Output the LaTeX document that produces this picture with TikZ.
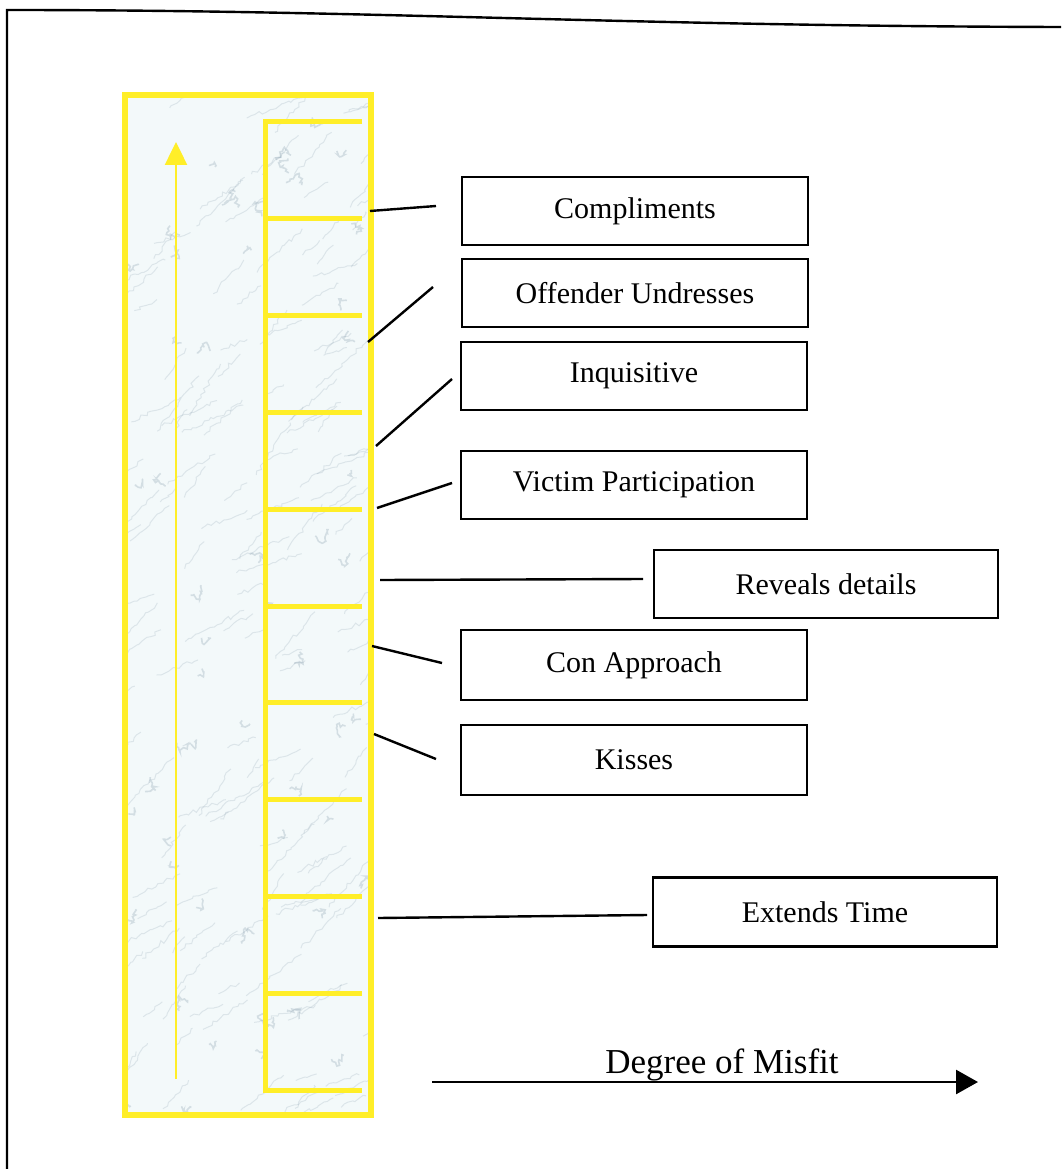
\documentclass[tikz,border=0pt]{standalone}
\usepackage{fontspec}
\setmainfont{Liberation Serif}
\usetikzlibrary{arrows.meta,decorations.pathmorphing}
\definecolor{markeryellow}{RGB}{255,238,40}
\definecolor{marblebase}{RGB}{243,249,250}
\definecolor{marblevein}{RGB}{100,128,148}
\tikzset{
  labelbox/.style={draw=black, line width=2.4pt, minimum width=346pt, minimum height=68pt,
    inner sep=0pt, fill=white, font=\fontsize{30}{36}\selectfont},
  leader/.style={draw=black, line width=2.4pt},
  rung/.style={draw=markeryellow, line width=5pt},
  vein/.style={draw=marblevein, line width=1pt, opacity=0.16, decorate,
    decoration={random steps, segment length=4pt, amplitude=2pt}},
  speck/.style={draw=marblevein, line width=1.6pt, opacity=0.22, decorate,
    decoration={random steps, segment length=2pt, amplitude=2pt}},
}
\begin{document}
\begin{tikzpicture}[x=1pt,y=-1pt]
\useasboundingbox (0,0) rectangle (1061,1169);
\fill[white] (0,0) rectangle (1061,1169);

% page frame (top and left edges)
\draw[line width=2.4pt] (7,1169) -- (7,10) .. controls (380,10) and (620,26) .. (1061,27);

% marbled scale panel
\begin{scope}
  \clip (125,95) rectangle (371,1115);
  \fill[marblebase] (125,95) rectangle (371,1115);
  \pgfmathsetseed{42}
  \foreach \k in {1,...,160}{
    \pgfmathsetmacro\vx{110+270*rnd}
    \pgfmathsetmacro\vy{90+1030*rnd}
    \pgfmathsetmacro\vl{20+50*rnd}
    \pgfmathsetmacro\va{-15-45*rnd}
    \draw[vein] (\vx,\vy) -- ++(\va:\vl);
  }
  \foreach \k in {1,...,55}{
    \pgfmathsetmacro\bx{125+246*rnd}
    \pgfmathsetmacro\by{95+1020*rnd}
    \pgfmathsetmacro\bl{6+10*rnd}
    \pgfmathsetmacro\ba{360*rnd}
    \draw[speck] (\bx,\by) -- ++(\ba:\bl) -- ++(\ba+110:{0.7*\bl});
  }
\end{scope}
\draw[markeryellow, line width=6pt] (125,95) rectangle (371,1115);

% ladder of rungs
\draw[rung] (362,122) -- (265,122) -- (265,1090) -- (362,1090);
\foreach \i in {1,...,9}{
  \draw[rung] (265,{122+96.8*\i}) -- (362,{122+96.8*\i});
}

% upward arrow inside the panel
\coordinate (ybot) at (176,1079);
\coordinate (ytop) at (176,142);
\draw[markeryellow, line width=2.5pt, -{Triangle[length=23pt,width=22pt]}] (ybot) -- (ytop);

% behaviour labels
\node[labelbox] (compl) at (635,211) {Compliments};
\node[labelbox] (undress) at (635,293) {Offender Undresses};
\node[labelbox] (inquis) at (634,376) {Inquisitive};
\node[labelbox] (victim) at (634,485) {Victim Participation};
\node[labelbox, minimum width=344pt] (reveal) at (826,584) {Reveals details};
\node[labelbox, minimum height=70pt] (conapp) at (634,665) {Con Approach};
\node[labelbox, minimum height=70pt] (kisses) at (634,760) {Kisses};
\node[labelbox, minimum width=344pt, minimum height=69pt] (extend) at (825,912) {Extends Time};

% leader lines
\coordinate (l1a) at (370,211); \coordinate (l1b) at (436,206);
\coordinate (l2a) at (368,342); \coordinate (l2b) at (433,287);
\coordinate (l3a) at (376,446); \coordinate (l3b) at (452,379);
\coordinate (l4a) at (377,508); \coordinate (l4b) at (452,483);
\coordinate (l5a) at (380,580); \coordinate (l5b) at (643,579);
\coordinate (l6a) at (372,646); \coordinate (l6b) at (442,663);
\coordinate (l7a) at (374,734); \coordinate (l7b) at (436,759);
\coordinate (l8a) at (378,918); \coordinate (l8b) at (647,915);
\foreach \n in {1,...,8}{
  \draw[leader] (l\n a) -- (l\n b);
}

% horizontal axis
\coordinate (mstart) at (432,1082);
\coordinate (mend) at (978,1082);
\draw[line width=2.6pt, -{Triangle[length=22pt,width=24pt]}] (mstart) -- (mend);
\node[font=\fontsize{35}{40}\selectfont, anchor=base] (misfit) at (722,1073) {Degree of Misfit};
\end{tikzpicture}
\end{document}
